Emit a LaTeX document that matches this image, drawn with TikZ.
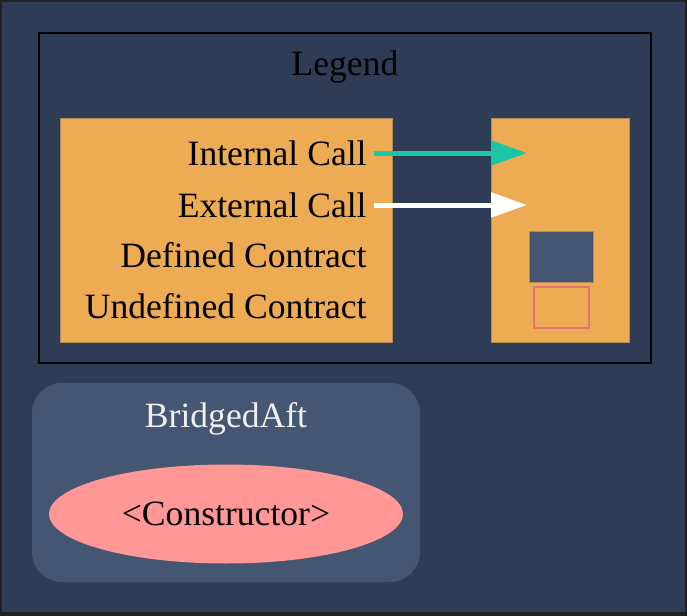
\documentclass[tikz,border=0pt]{standalone}
\usepackage{fontspec}
\setmainfont{Liberation Serif}
\usetikzlibrary{arrows.meta,shapes.geometric}

\definecolor{bgblue}{HTML}{2E3D55}
\definecolor{frame}{HTML}{222222}
\definecolor{keyorange}{HTML}{EDAC54}
\definecolor{keyline}{HTML}{B08A58}
\definecolor{clusterblue}{HTML}{455672}
\definecolor{internal}{HTML}{1BC6A6}
\definecolor{undefred}{HTML}{E57373}
\definecolor{ctorpink}{HTML}{FF9797}

\begin{document}
\begin{tikzpicture}[x=0.5pt, y=-0.5pt, font=\fontsize{17.8}{20}\selectfont,
  keybox/.style = {fill=keyorange, draw=keyline, line width=0.4pt},
  key/.style = {anchor=base east, inner sep=0pt},
  call/.style = {line width=2.5pt, -{Triangle[length=18pt, width=12pt]}},
  ctor/.style = {ellipse, fill=ctorpink, minimum width=177pt, minimum height=49.5pt, inner sep=0pt}] 

\useasboundingbox (0,0) rectangle (687,616);
\fill[frame] (0,0) rectangle (687,616);
\fill[bgblue] (2,2) rectangle (685,612);

% legend
\draw[black, line width=1pt] (39,33) rectangle (651,363);
\node[anchor=base, inner sep=0pt] (legend) at (345,75) {Legend};
\path[keybox] (60,118) rectangle (392,342);
\path[keybox] (491,118) rectangle (629,342);

\node[key] (int) at (367,165) {Internal Call};
\node[key] (ext) at (367,217) {External Call};
\node[key] (def) at (367,267) {Defined Contract};
\node[key] (undef) at (367,318) {Undefined Contract};

\coordinate (intA) at (374,153);
\coordinate (intB) at (527,153);
\coordinate (extA) at (374,205);
\coordinate (extB) at (527,205);
\draw[call, internal] (intA) -- (intB);
\draw[call, white] (extA) -- (extB);

\path[fill=clusterblue, draw=keyline, line width=0.4pt] (529,231) rectangle (593,282);
\draw[undefred, line width=1pt] (534,287) rectangle (589,328);

% contract
\fill[clusterblue, rounded corners=15pt] (32,383) rectangle (420,582);
\node[anchor=base, inner sep=0pt, text=white!94!black] (bridged) at (226,427) {BridgedAft};
\node[ctor] (constructor) at (226,514) {<Constructor>};

\end{tikzpicture}
\end{document}
